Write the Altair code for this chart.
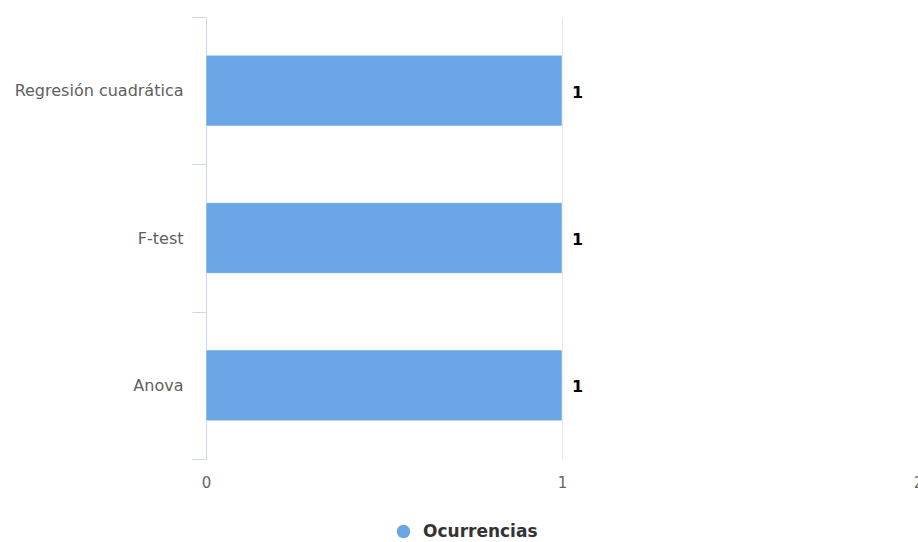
import altair as alt
import pandas as pd

# Categories and occurrence counts
categories = ["Regresión cuadrática", "F-test", "Anova"]
values = [1, 1, 1]
series_name = "Ocurrencias"
x_ticks = [0, 1, 2]

df = pd.DataFrame({
    "categoria": categories,
    "valor": values,
    "serie": [series_name] * len(categories),
})

FONT = "DejaVu Sans"
BAR_COLOR = "#6aa6e6"

base = alt.Chart(df).encode(
    x=alt.X(
        "valor:Q",
        title=None,
        scale=alt.Scale(domain=[0, 2], nice=False),
        axis=alt.Axis(
            values=x_ticks,
            format=".0f",
            domain=False,
            ticks=False,
            grid=True,
            gridColor="#e6e6e6",
            gridWidth=1,
            labelFlush=False,
            labelOverlap=False,
            labelPadding=16,
            labelFont=FONT,
            labelFontSize=15,
            labelColor="#666666",
        ),
    ),
    y=alt.Y(
        "categoria:N",
        sort=categories,
        title=None,
        scale=alt.Scale(paddingInner=0, paddingOuter=0),
        axis=alt.Axis(
            domainColor="#ccd6eb",
            tickColor="#ccd6eb",
            tickSize=14,
            tickBand="extent",
            labelPadding=9,
            labelFont=FONT,
            labelFontSize=16,
            labelColor="#606060",
            grid=False,
        ),
    ),
)

bars = base.mark_bar(
    height={"band": 0.48},
    stroke="#ffffff",
    strokeWidth=1,
    strokeOpacity=0.5,
).encode(
    color=alt.Color(
        "serie:N",
        scale=alt.Scale(range=[BAR_COLOR]),
        legend=alt.Legend(
            title=None,
            orient="none",
            legendX=189,
            legendY=506,
            symbolType="circle",
            symbolSize=180,
            symbolStrokeWidth=0,
            labelFont=FONT,
            labelFontSize=17,
            labelFontWeight="bold",
            labelColor="#333333",
            labelOffset=11,
            padding=0,
        ),
    ),
)

labels = base.mark_text(
    align="left",
    baseline="middle",
    dx=10,
    dy=2,
    font=FONT,
    fontSize=16,
    fontWeight="bold",
    color="#000000",
).encode(
    text=alt.Text("valor:Q", format="d"),
)

chart = (
    alt.layer(bars, labels)
    .properties(
        width=712,
        height=442,
        autosize=alt.AutoSizeParams(type="none"),
        padding={"left": 206, "top": 17, "right": 0, "bottom": 83},
    )
    .configure_view(stroke=None)
)

chart.save("out.html", embed_options={"renderer": "svg", "actions": False})
